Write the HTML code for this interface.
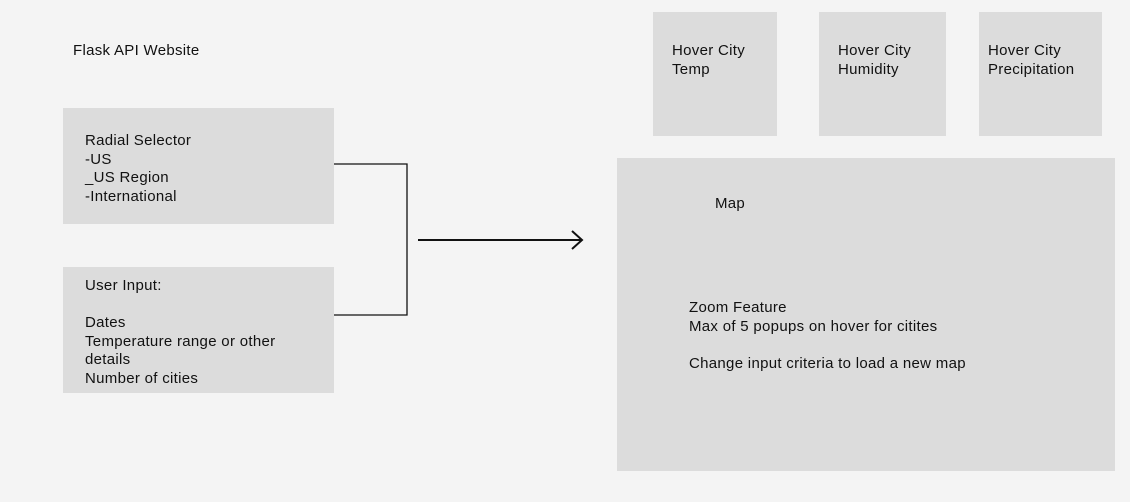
<!DOCTYPE html>
<html><head><meta charset="utf-8"><style>
body{margin:0;width:1130px;height:502px;background:#f4f4f4;position:relative;overflow:hidden;font-family:"Liberation Sans",sans-serif;font-size:15px;letter-spacing:0.3px;color:#111;}
.b{position:absolute;background:#dcdcdc;}
.t{position:absolute;line-height:18.6px;white-space:pre;}
</style></head><body>
<div class="t" style="left:73px;top:42px">Flask API Website</div>
<div class="b" style="left:63px;top:108px;width:271px;height:116px"></div>
<div class="t" style="left:85px;top:132px">Radial Selector
-US
_US Region
-International</div>
<div class="b" style="left:63px;top:267px;width:271px;height:126px"></div>
<div class="t" style="left:85px;top:277px">User Input:

Dates
Temperature range or other
details
Number of cities</div>
<svg width="1130" height="502" style="position:absolute;left:0;top:0">
<polyline points="334,164 407,164 407,315 334,315" fill="none" stroke="#111" stroke-width="1.3"/>
<line x1="418" y1="240" x2="582" y2="240" stroke="#111" stroke-width="2"/>
<polyline points="572,231 582,240 572,249" fill="none" stroke="#111" stroke-width="2"/>
</svg>
<div class="b" style="left:653px;top:12px;width:124px;height:124px"></div>
<div class="t" style="left:672px;top:42px">Hover City
Temp</div>
<div class="b" style="left:819px;top:12px;width:127px;height:124px"></div>
<div class="t" style="left:838px;top:42px">Hover City
Humidity</div>
<div class="b" style="left:979px;top:12px;width:123px;height:124px"></div>
<div class="t" style="left:988px;top:42px">Hover City
Precipitation</div>
<div class="b" style="left:617px;top:158px;width:498px;height:313px"></div>
<div class="t" style="left:715px;top:195px">Map</div>
<div class="t" style="left:689px;top:299px">Zoom Feature
Max of 5 popups on hover for citites

Change input criteria to load a new map</div>
</body></html>
